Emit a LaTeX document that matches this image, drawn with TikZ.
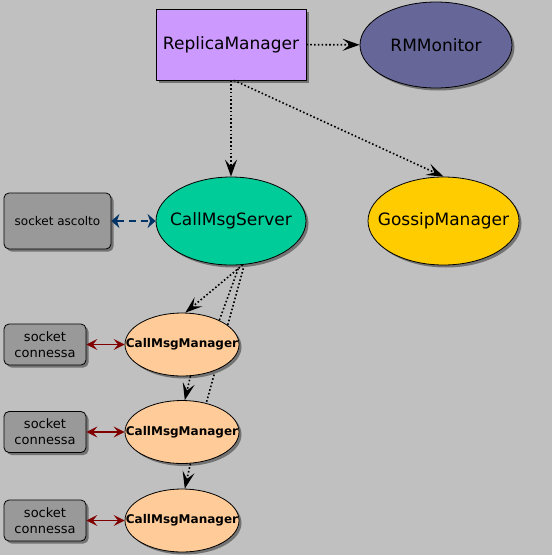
\documentclass[tikz,border=0pt]{standalone}
\usepackage{fontspec}
\setmainfont{DejaVu Sans}
\usetikzlibrary{arrows.meta,shapes.geometric,shadows}
\definecolor{bgcol}{HTML}{C0C0C0}
\definecolor{lilac}{HTML}{CC99FF}
\definecolor{slate}{HTML}{666699}
\definecolor{jade}{HTML}{00CC99}
\definecolor{gold}{HTML}{FFCC00}
\definecolor{peach}{HTML}{FFCC99}
\definecolor{sockgray}{HTML}{999999}
\definecolor{navy}{HTML}{003366}
\definecolor{maroon}{HTML}{800000}
\pgfdeclarelayer{back}
\pgfsetlayers{back,main}
\tikzset{
  every picture/.style={line join=round},
  shade/.style={drop shadow={shadow xshift=2.5pt, shadow yshift=-2.5pt, fill=black!55, opacity=1}},
  comp/.style={draw, line width=0.8pt, inner sep=0pt, shade},
  % zero-width text so the ellipse keeps its given size
  oval/.style={comp, ellipse,
    execute at begin node={\hbox to 0pt\bgroup\hss},
    execute at end node={\hss\egroup}},
  big/.style={font=\fontsize{17}{20}\selectfont},
  sock/.style={comp, fill=sockgray, rounded corners=5pt, align=center},
  uses/.style={line width=1.6pt, dash pattern=on 1.6pt off 2.2pt,
    -{Stealth[length=17pt,width=12pt,inset=7pt]}},
  plain/.style={line width=1.6pt, dash pattern=on 1.6pt off 2.2pt},
  listen/.style={navy, line width=1.6pt, dash pattern=on 7pt off 5pt,
    {Stealth[length=8pt,width=14pt,inset=2.5pt]}-{Stealth[length=8pt,width=14pt,inset=2.5pt]}},
  conn/.style={maroon, line width=1.1pt,
    {Stealth[length=11pt,width=11pt,inset=4.5pt]}-{Stealth[length=11pt,width=11pt,inset=4.5pt]}},
}
\begin{document}
\begin{tikzpicture}[x=1pt,y=-1pt]
\begin{pgfonlayer}{back}
\fill[bgcol] (0,0) rectangle (552,555);
\end{pgfonlayer}
\useasboundingbox (0,0) rectangle (552,555);

\node[comp, fill=lilac, big, minimum width=150pt, minimum height=71pt] (rm) at (231,44.5) {ReplicaManager};
\node[oval, fill=slate, big, minimum width=152pt, minimum height=86pt] (rmm) at (436,45) {RMMonitor};
\node[oval, fill=jade, big, minimum width=150pt, minimum height=88pt] (cms) at (231,221) {CallMsgServer};
\node[oval, fill=gold, big, minimum width=151pt, minimum height=88pt] (gm) at (443.5,221) {GossipManager};
\node[sock, font=\fontsize{12}{14}\selectfont, minimum width=107pt, minimum height=56pt] (sa) at (57.5,221) {socket ascolto};

\foreach \i/\y in {1/344.5, 2/432, 3/520.5} {
  \node[oval, fill=peach, font=\fontsize{12}{14}\selectfont\bfseries, minimum width=114pt, minimum height=63pt] (cmm\i) at (182,\y) {CallMsgManager};
  \node[sock, font=\fontsize{13}{16}\selectfont, minimum width=82pt, minimum height=41pt] (sc\i) at (45,\y) {socket\\connessa};
  \draw[conn] (sc\i) -- (cmm\i);
}

\draw[uses] (rm) -- (rmm);
\draw[uses] (rm.south) -- (cms.north);
\draw[uses] ([xshift=3pt]rm.south) -- (gm.north);
\draw[listen] (sa) -- (cms);

\draw[uses] (cms.-75) -- (cmm1.84);
\begin{pgfonlayer}{back}
\draw[plain] (cms.-79) -- (cmm1.33);
\draw[plain] (cms.-73) -- (cmm2.50);
\end{pgfonlayer}
\draw[uses] (cmm1.-75) -- (cmm2.85);
\draw[uses] (cmm2.-75) -- (cmm3.85);
\end{tikzpicture}
\end{document}
